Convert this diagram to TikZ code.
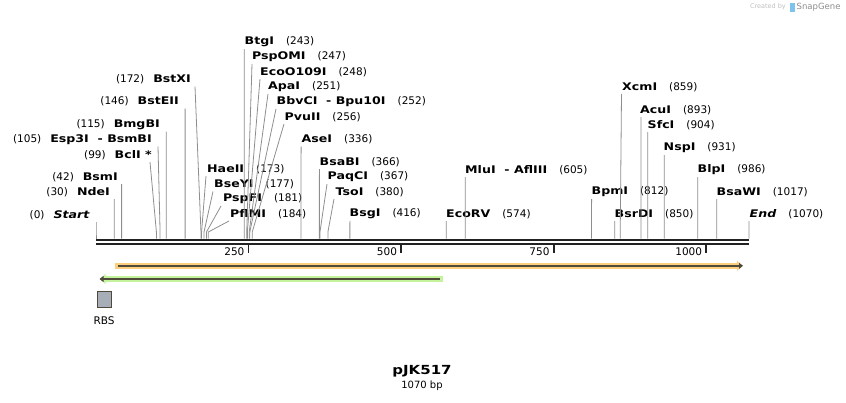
\documentclass[tikz,border=0pt]{standalone}
\usepackage{fontspec}
\setmainfont{DejaVu Sans}
\newfontfamily\enzBold[FakeStretch=1.2, ItalicFont={DejaVu Sans Bold Oblique}]{DejaVu Sans Bold}
\usetikzlibrary{arrows.meta,positioning}
\definecolor{mapInk}{HTML}{222222}
\definecolor{mapCut}{HTML}{8E8E8E}
\definecolor{mapOrange}{HTML}{FBCF7E}
\definecolor{mapGreen}{HTML}{C3F39A}
\definecolor{mapFeat}{HTML}{4F4A3C}
\definecolor{mapRbs}{HTML}{A8AEB7}
\definecolor{mapLogo}{HTML}{7CC4EE}
\newcommand{\enzName}[1]{{\enzBold #1}}
\tikzset{
    enzLeft/.style={anchor=east, inner sep=0pt, font=\fontsize{10.5}{12}\selectfont},
    enzRight/.style={anchor=west, inner sep=0pt, font=\fontsize{10.5}{12}\selectfont},
    cutLine/.style={draw=mapCut, line width=0.8pt},
    seqLine/.style={draw=mapInk, line width=2.3pt},
    tickLine/.style={draw=mapInk, line width=1.8pt},
    tickLabel/.style={anchor=east, inner sep=0pt, font=\fontsize{10.5}{12}\selectfont},
    % features
    featBand/.style={line width=5.5pt, draw=mapOrange},
    featBandGreen/.style={line width=5.5pt, draw=mapGreen},
    featCore/.style={line width=1.6pt, draw=mapFeat},
    rbsBox/.style={draw=mapFeat, fill=mapRbs, line width=0.8pt, minimum width=14pt, minimum height=16.5pt, inner sep=0pt}
}
\begin{document}
\begin{tikzpicture}[x=1pt, y=-1pt]
    \useasboundingbox (0,0) rectangle (846,402);
    % watermark
    \node[font=\fontsize{6.5}{7}\selectfont, text=black!25, anchor=east, inner sep=0pt] (madeBy) at (786,7) {Created by};
    \fill[mapLogo] (790,2.5) rectangle (794.5,11.5);
    \node[font=\fontsize{8.5}{9}\selectfont, text=black!45, anchor=west, inner sep=0pt] (snapName) at (796.5,7) {SnapGene};
    % sequence
    \coordinate (seqL) at (96,240.3);
    \coordinate (seqR) at (749,240.3);
    \draw[seqLine] (seqL) -- (seqR);
    \draw[seqLine] ([yshift=-3.6pt]seqL) -- ([yshift=-3.6pt]seqR);
    \foreach \t in {250,500,750,1000} {
        \coordinate (tick\t) at ({96+\t*0.61028},245);
        \draw[tickLine] (tick\t) -- ++(0,7.5);
        \node[tickLabel] (tickLbl\t) at ([xshift=-4pt]tick\t |- 0,252) {\t};
    }
    % sites, label on the left
    \foreach \lbl/\num/\ex/\ly/\tx/\bp [count=\i] in {
        \textit{Start}/0/90/215/96/0,
        NdeI/30/110/192/114.3/30,
        BsmI/42/118/177/121.6/42,
        BclI */99/152/155/150/99,
        Esp3I~~-~BsmBI/105/152/139.5/158/105,
        BmgBI/115/160/124.5/166.2/115,
        BstEII/146/179/101.5/185.1/146,
        BstXI/172/191/79.5/195/172} {
        \node[enzLeft] (encL\i) at (\ex,\ly) {(\num)\hspace{9pt}\enzName{\lbl}};
        \coordinate (topL\i) at (\tx,\ly+7);
        \coordinate (siteL\i) at ({96+\bp*0.61028},232);
        \draw[cutLine] (topL\i) -- (siteL\i) -- ++(0,6.5);
    }
    % sites, label on the right
    \foreach \lbl/\num/\lx/\ly/\tx/\bp [count=\i] in {
        HaeII/173/207/169/206/173,
        BseYI/177/214/184.5/213/177,
        PspFI/181/223/199/221/181,
        PflMI/184/230/214/229/184,
        BtgI/243/244.5/42/244.3/243,
        PspOMI/247/252/57/252/247,
        EcoO109I/248/260/72/260/248,
        ApaI/251/268/87/268/251,
        BbvCI~~-~Bpu10I/252/276.5/102/276/252,
        PvuII/256/284.5/117/284/256,
        AseI/336/301.5/139.5/301.1/336,
        BsaBI/366/319.5/162/319.4/366,
        PaqCI/367/327.5/177/327/367,
        TsoI/380/335.5/192/334/380,
        BsgI/416/349.5/214/349.9/416,
        EcoRV/574/446/214/446.3/574,
        MluI~~-~AflIII/605/465/170/465.2/605,
        BpmI/812/591.5/192/591.6/812,
        BsrDI/850/614.5/214/614.8/850,
        XcmI/859/622/87/621.5/859,
        AcuI/893/640/110/641/893,
        SfcI/904/647.5/125/647.7/904,
        NspI/931/663.5/148/664.2/931,
        BlpI/986/697.5/170/697.8/986,
        BsaWI/1017/716.5/192/716.7/1017,
        \textit{End}/1070/749.5/214/749/1070} {
        \node[enzRight] (encR\i) at (\lx,\ly) {\enzName{\lbl}\hspace{12pt}(\num)};
        \coordinate (topR\i) at (\tx,\ly+7);
        \coordinate (siteR\i) at ({96+\bp*0.61028},232);
        \draw[cutLine] (topR\i) -- (siteR\i) -- ++(0,6.5);
    }
    % features
    \coordinate (cdsA) at (114.5,265.8);
    \coordinate (cdsB) at (746,265.8);
    \draw[featBand, -{Triangle[length=5pt,width=10pt,color=mapOrange]}] (cdsA) -- ([xshift=-4pt]cdsB);
    \draw[featCore, -{Triangle[length=4pt,width=6pt]}] ([xshift=3pt]cdsA) -- ([xshift=-3pt]cdsB);
    \coordinate (revA) at (442.7,279);
    \coordinate (revB) at (96.5,279);
    \draw[featBandGreen, -{Triangle[length=5pt,width=10pt,color=mapGreen]}] (revA) -- ([xshift=4pt]revB);
    \draw[featCore, -{Triangle[length=4pt,width=6pt]}] ([xshift=-3pt]revA) -- ([xshift=3pt]revB);
    \node[rbsBox] (rbs) at (104.5,299.3) {};
    \node[font=\fontsize{10.5}{12}\selectfont, inner sep=0pt] (rbsLbl) at (104,320.5) {RBS};
    % title
    \node[font=\enzBold\fontsize{12.5}{15}\selectfont, inner sep=0pt] (plasmid) at (422,371) {pJK517};
    \node[font=\fontsize{10}{12}\selectfont, inner sep=0pt, below=4pt of plasmid] (bpLen) {1070 bp};
\end{tikzpicture}
\end{document}
